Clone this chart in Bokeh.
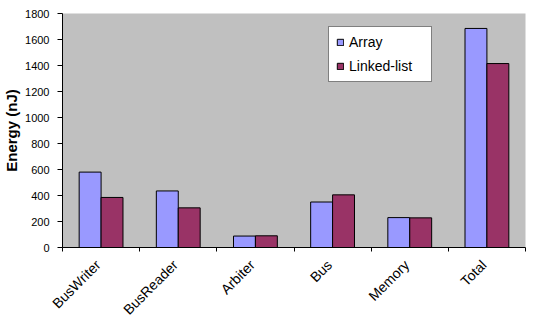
from math import pi

from bokeh.embed import file_html
from bokeh.resources import INLINE
from bokeh.plotting import figure
from bokeh.models import (ColumnDataSource, Range1d, LinearAxis, FixedTicker,
                          Legend, LegendItem)
from bokeh.transform import dodge

# Energy per component (nJ) for the two buffer implementations
components = ["BusWriter", "BusReader", "Arbiter", "Bus", "Memory", "Total"]
array_nj = [580, 435, 88, 350, 230, 1685]
linked_nj = [385, 305, 90, 405, 228, 1415]
y_ticks = [0, 200, 400, 600, 800, 1000, 1200, 1400, 1600, 1800]

FONT = "Liberation Sans"

n = len(components)
centers = [i + 0.5 for i in range(n)]      # slot centres on a 0..n axis
edges = list(range(n + 1))                 # slot boundaries
label_pos = [c - 0.04 for c in centers]    # rotated names end just left of centre

src = ColumnDataSource(dict(pos=centers, arr=array_nj, lnk=linked_nj))

p = figure(width=537, height=327, x_range=Range1d(0, n),
           y_range=Range1d(0, 1800), x_axis_type=None, y_axis_type=None,
           output_backend="svg", toolbar_location=None,
           min_border_left=60, min_border_right=12, min_border_top=13,
           min_border_bottom=80)
p.background_fill_color = "#C0C0C0"
p.border_fill_color = "white"
p.outline_line_color = None

# value axis
yax = LinearAxis(ticker=FixedTicker(ticks=y_ticks), axis_label="Energy (nJ)")
yax.major_tick_out = 5
yax.major_tick_in = 0
yax.minor_tick_line_color = None
yax.axis_line_color = "black"
yax.major_tick_line_color = "black"
yax.major_label_text_font = FONT
yax.major_label_text_font_size = "11px"
yax.major_label_text_color = "black"
yax.major_label_standoff = 8
yax.axis_label_text_font = FONT
yax.axis_label_text_font_size = "15px"
yax.axis_label_text_font_style = "bold"
yax.axis_label_text_color = "black"
yax.axis_label_standoff = 2
p.add_layout(yax, "left")

# horizontal gridlines
p.ygrid.ticker = FixedTicker(ticks=y_ticks[1:-1])
p.ygrid.grid_line_color = "black"
p.ygrid.grid_line_width = 1
p.xgrid.grid_line_color = None

# component names under the slots, tick marks at slot boundaries
xax = LinearAxis(ticker=FixedTicker(ticks=label_pos, minor_ticks=edges),
                 major_label_overrides={c: name for c, name in zip(label_pos, components)})
xax.axis_line_color = "black"
xax.major_tick_line_color = None
xax.major_tick_out = 4
xax.major_tick_in = 0
xax.minor_tick_line_color = "black"
xax.minor_tick_out = 4
xax.minor_tick_in = 0
xax.major_label_orientation = pi / 4
xax.major_label_text_font = FONT
xax.major_label_text_font_size = "14px"
xax.major_label_text_color = "black"
xax.major_label_standoff = 11
p.add_layout(xax, "below")

bw = 0.284
r_arr = p.vbar(x=dodge("pos", -bw / 2), top="arr", width=bw,
               source=src, fill_color="#9999FF", line_color="black", line_width=1)
r_lnk = p.vbar(x=dodge("pos", bw / 2), top="lnk", width=bw,
               source=src, fill_color="#993366", line_color="black", line_width=1)

legend = Legend(items=[LegendItem(label="Array", renderers=[r_arr]),
                       LegendItem(label="Linked-list", renderers=[r_lnk])],
                location=(266, 165))
legend.label_text_font = FONT
legend.label_text_font_size = "14px"
legend.label_text_color = "black"
legend.glyph_width = 8
legend.glyph_height = 8
legend.label_standoff = 5
legend.padding = 7
legend.spacing = 8
legend.margin = 0
legend.label_width = 75
legend.border_line_color = "black"
legend.border_line_width = 1
legend.background_fill_color = "white"
legend.background_fill_alpha = 1
p.add_layout(legend, "center")

open("out.html", "w").write(file_html(p, INLINE))
